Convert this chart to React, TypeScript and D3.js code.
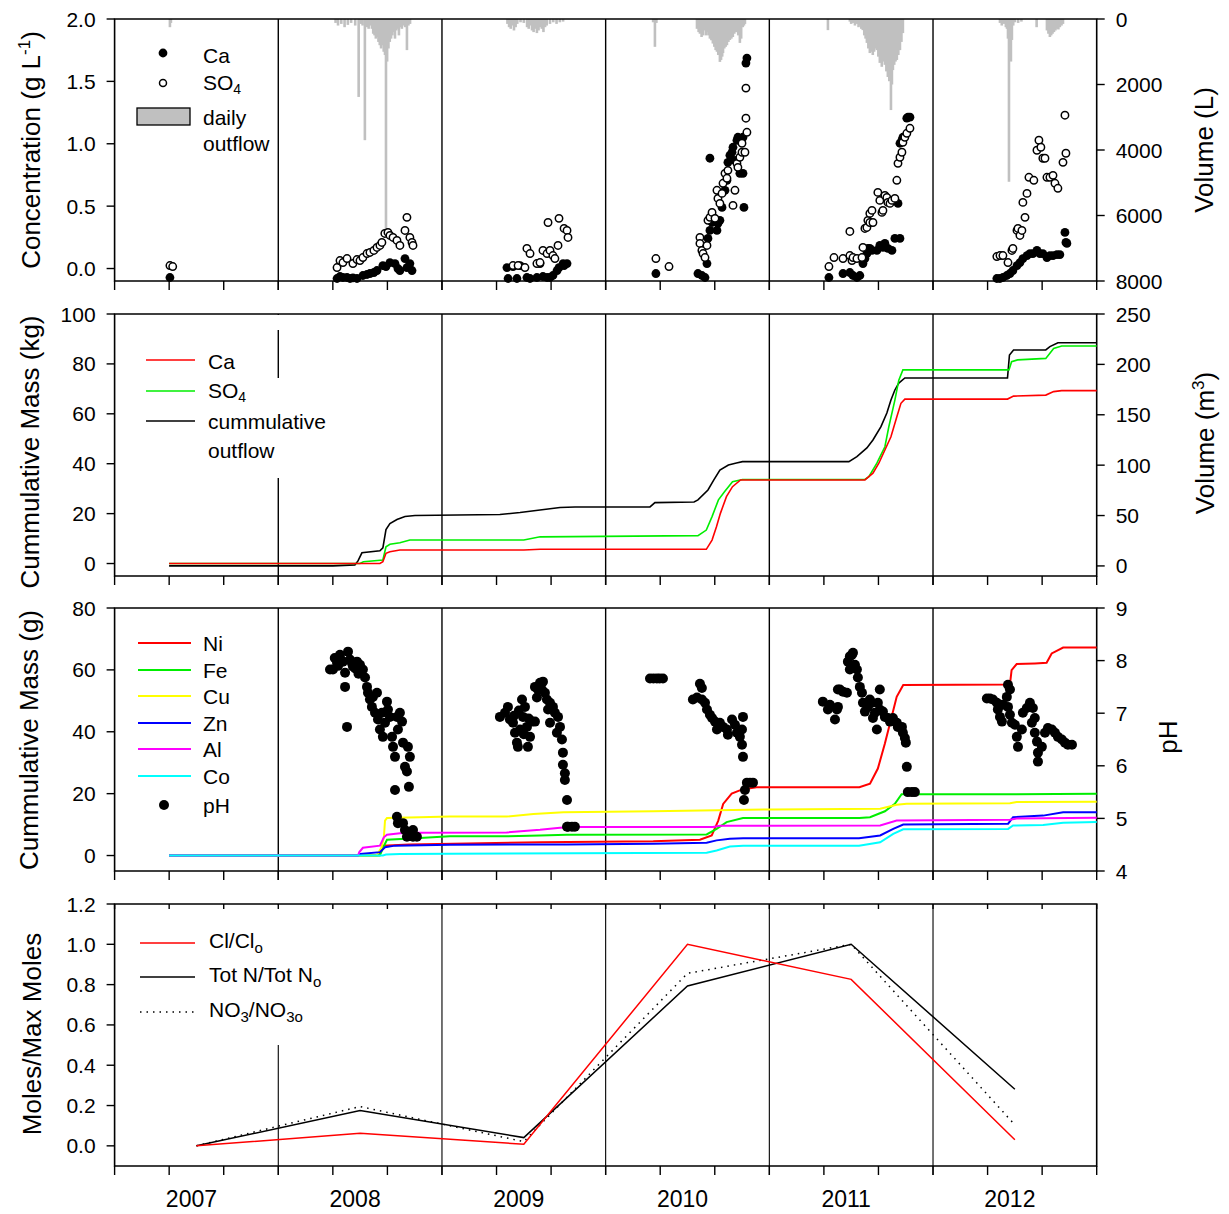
import React from "react";
import * as d3 from "d3";

const FONT = "'Liberation Sans', Arial, Helvetica, sans-serif";
const W = 1229;
const H = 1214;

// ---------------- axis values ----------------
const yearLabels = [2007, 2008, 2009, 2010, 2011, 2012];
const yearBoundaries = [2008, 2009, 2010, 2011, 2012];
const concTicks = [0, 0.5, 1.0, 1.5, 2.0];
const volLTicks = [0, 2000, 4000, 6000, 8000];
const massKgTicks = [0, 20, 40, 60, 80, 100];
const volM3Ticks = [0, 50, 100, 150, 200, 250];
const massGTicks = [0, 20, 40, 60, 80];
const phTicks = [4, 5, 6, 7, 8, 9];
const molesTicks = [0, 0.2, 0.4, 0.6, 0.8, 1.0, 1.2];

// ---------------- daily outflow (decimal year, litres) ----------------
const dailyOutflow: [number, number][] = [
  [2007.338, 250], [2007.344, 120],
  [2008.35, 120], [2008.365, 200], [2008.385, 150], [2008.405, 250], [2008.425, 180], [2008.445, 120], [2008.47, 200],
  [2008.491, 2380], [2008.505, 150], [2008.515, 200], [2008.529, 3700], [2008.54, 250], [2008.552, 300], [2008.562, 200],
  [2008.572, 300], [2008.58, 450], [2008.588, 500], [2008.596, 600], [2008.604, 550], [2008.612, 700], [2008.62, 800],
  [2008.628, 900], [2008.636, 800], [2008.644, 1000], [2008.652, 1100], [2008.658, 6540], [2008.665, 1300], [2008.673, 900],
  [2008.681, 700], [2008.689, 600], [2008.697, 500], [2008.705, 400], [2008.713, 600], [2008.721, 350], [2008.729, 300],
  [2008.737, 500], [2008.745, 250], [2008.755, 300], [2008.765, 200], [2008.775, 250], [2008.786, 950], [2008.795, 200], [2008.805, 150],
  [2009.4, 150], [2009.41, 250], [2009.42, 300], [2009.43, 200], [2009.44, 350], [2009.45, 250], [2009.46, 150], [2009.48, 100],
  [2009.5, 120], [2009.52, 250], [2009.53, 300], [2009.54, 200], [2009.55, 350], [2009.56, 400], [2009.57, 300], [2009.58, 430],
  [2009.59, 350], [2009.6, 250], [2009.61, 300], [2009.62, 400], [2009.63, 250], [2009.64, 200], [2009.66, 150], [2009.68, 100],
  [2009.7, 150], [2009.72, 100], [2009.74, 80],
  [2010.29, 100], [2010.301, 850], [2010.31, 120],
  [2010.558, 300], [2010.568, 400], [2010.576, 450], [2010.586, 550], [2010.594, 500], [2010.604, 350], [2010.612, 500],
  [2010.62, 400], [2010.628, 500], [2010.637, 600], [2010.646, 650], [2010.655, 750], [2010.664, 850], [2010.672, 950],
  [2010.68, 1000], [2010.688, 1100], [2010.698, 1310], [2010.705, 1250], [2010.712, 1150], [2010.717, 1040], [2010.725, 900],
  [2010.733, 850], [2010.741, 800], [2010.75, 700], [2010.759, 640], [2010.768, 600], [2010.777, 550], [2010.786, 450],
  [2010.795, 400], [2010.802, 400], [2010.81, 500], [2010.82, 730], [2010.828, 600], [2010.838, 250], [2010.845, 200], [2010.851, 150],
  [2011.358, 340],
  [2011.492, 80], [2011.5, 150], [2011.51, 120], [2011.523, 200], [2011.535, 150], [2011.545, 250], [2011.553, 200], [2011.562, 300],
  [2011.571, 340], [2011.58, 500], [2011.588, 600], [2011.596, 730], [2011.605, 900], [2011.614, 1040], [2011.623, 1000],
  [2011.632, 1100], [2011.64, 1000], [2011.648, 900], [2011.657, 950], [2011.666, 1150], [2011.675, 1340], [2011.687, 1460],
  [2011.697, 1300], [2011.706, 1400], [2011.715, 1600], [2011.724, 1770], [2011.733, 1900], [2011.743, 2780], [2011.749, 2000],
  [2011.755, 1560], [2011.763, 1400], [2011.771, 1300], [2011.779, 1250], [2011.788, 1100], [2011.798, 950], [2011.807, 700], [2011.816, 430],
  [2012.409, 120], [2012.42, 200], [2012.432, 150], [2012.445, 250], [2012.452, 300], [2012.458, 600], [2012.464, 4970],
  [2012.47, 1040], [2012.476, 1300], [2012.482, 640], [2012.49, 200], [2012.5, 100], [2012.52, 120], [2012.54, 80],
  [2012.633, 250],
  [2012.696, 350], [2012.705, 450], [2012.714, 550], [2012.722, 500], [2012.73, 450], [2012.739, 400], [2012.748, 350],
  [2012.757, 300], [2012.766, 320], [2012.775, 250], [2012.785, 200], [2012.794, 150],
];

// ---------------- concentrations (decimal year, g/L) ----------------
const caConc: [number, number][] = [
  [2007.338, -0.072],
  [2008.359, -0.08], [2008.377, -0.064], [2008.395, -0.072], [2008.42, -0.072], [2008.438, -0.08], [2008.456, -0.075],
  [2008.481, -0.08], [2008.517, -0.056], [2008.542, -0.048], [2008.56, -0.04], [2008.584, -0.032], [2008.603, -0.016],
  [2008.639, 0.024], [2008.658, 0.016], [2008.682, 0.048], [2008.713, 0.04], [2008.731, 0.0], [2008.743, -0.016],
  [2008.774, 0.08], [2008.786, 0.008], [2008.804, 0.04], [2008.817, -0.016],
  [2009.397, 0.008], [2009.404, -0.08], [2009.434, 0.016], [2009.458, -0.08], [2009.477, 0.024], [2009.519, -0.072],
  [2009.538, -0.08], [2009.58, -0.072], [2009.599, 0.04], [2009.617, -0.064], [2009.642, -0.072], [2009.66, -0.072],
  [2009.678, -0.056], [2009.703, -0.016], [2009.715, 0.008], [2009.74, 0.04], [2009.746, 0.024], [2009.764, 0.04],
  [2010.307, -0.04], [2010.564, -0.04], [2010.588, -0.056], [2010.607, -0.072], [2010.619, 0.04], [2010.625, 0.241],
  [2010.637, 0.305], [2010.637, 0.884], [2010.65, 0.369], [2010.656, 0.41], [2010.68, 0.305], [2010.686, 0.361],
  [2010.698, 0.386], [2010.711, 0.49], [2010.729, 0.627], [2010.741, 0.707], [2010.747, 0.851], [2010.759, 0.908],
  [2010.772, 0.932], [2010.778, 0.972], [2010.79, 0.867], [2010.802, 1.028], [2010.808, 1.052], [2010.82, 0.763],
  [2010.839, 0.763], [2010.839, 1.052], [2010.845, 0.49], [2010.857, 1.647], [2010.863, 1.687],
  [2011.364, -0.072], [2011.45, -0.04], [2011.492, -0.032], [2011.511, -0.056], [2011.535, -0.072], [2011.553, -0.056],
  [2011.572, 0.04], [2011.584, 0.08], [2011.596, 0.12], [2011.602, 0.161], [2011.614, 0.161], [2011.627, 0.145],
  [2011.657, 0.145], [2011.675, 0.185], [2011.694, 0.169], [2011.706, 0.201], [2011.724, 0.161], [2011.749, 0.145],
  [2011.767, 0.241], [2011.798, 0.241], [2011.786, 0.522], [2011.798, 1.004], [2011.81, 1.028], [2011.816, 1.052],
  [2011.84, 1.205], [2011.847, 1.213], [2011.859, 1.213],
  [2012.39, -0.08], [2012.409, -0.08], [2012.427, -0.072], [2012.451, -0.056], [2012.47, -0.04], [2012.488, -0.016],
  [2012.513, 0.024], [2012.531, 0.048], [2012.549, 0.08], [2012.574, 0.104], [2012.592, 0.12], [2012.61, 0.12],
  [2012.635, 0.145], [2012.653, 0.12], [2012.671, 0.12], [2012.696, 0.088], [2012.714, 0.104], [2012.733, 0.104],
  [2012.757, 0.112], [2012.775, 0.112], [2012.806, 0.289], [2012.812, 0.209], [2012.818, 0.201],
];

const so4Conc: [number, number][] = [
  [2007.338, 0.024], [2007.355, 0.016],
  [2008.359, 0.008], [2008.377, 0.064], [2008.395, 0.048], [2008.42, 0.08], [2008.456, 0.04], [2008.481, 0.072],
  [2008.499, 0.064], [2008.517, 0.088], [2008.542, 0.12], [2008.56, 0.129], [2008.584, 0.145], [2008.603, 0.169],
  [2008.621, 0.185], [2008.633, 0.209], [2008.651, 0.281], [2008.67, 0.289], [2008.682, 0.265], [2008.701, 0.249],
  [2008.725, 0.225], [2008.743, 0.185], [2008.774, 0.305], [2008.786, 0.41], [2008.804, 0.249], [2008.817, 0.209], [2008.823, 0.185],
  [2009.434, 0.024], [2009.465, 0.024], [2009.507, 0.008], [2009.519, 0.161], [2009.538, 0.12], [2009.58, 0.04],
  [2009.599, 0.048], [2009.617, 0.145], [2009.642, 0.12], [2009.648, 0.369], [2009.66, 0.145], [2009.678, 0.104],
  [2009.69, 0.08], [2009.709, 0.185], [2009.715, 0.402], [2009.746, 0.321], [2009.764, 0.305], [2009.77, 0.249],
  [2010.307, 0.08], [2010.387, 0.016], [2010.576, 0.249], [2010.576, 0.201], [2010.588, 0.145], [2010.595, 0.12],
  [2010.607, 0.088], [2010.619, 0.185], [2010.625, 0.386], [2010.637, 0.41], [2010.65, 0.45], [2010.668, 0.402],
  [2010.68, 0.627], [2010.686, 0.562], [2010.698, 0.522], [2010.711, 0.602], [2010.717, 0.683], [2010.729, 0.763],
  [2010.741, 0.723], [2010.747, 0.787], [2010.778, 0.506], [2010.79, 0.627], [2010.802, 0.843], [2010.808, 0.811],
  [2010.82, 0.892], [2010.833, 0.932], [2010.833, 1.004], [2010.851, 0.932], [2010.863, 1.092], [2010.857, 1.205], [2010.857, 1.446],
  [2011.364, 0.016], [2011.395, 0.088], [2011.45, 0.08], [2011.492, 0.104], [2011.492, 0.297], [2011.505, 0.064],
  [2011.511, 0.088], [2011.535, 0.08], [2011.566, 0.088], [2011.572, 0.169], [2011.584, 0.321], [2011.596, 0.329],
  [2011.602, 0.386], [2011.614, 0.442], [2011.627, 0.466], [2011.614, 0.369], [2011.633, 0.369], [2011.663, 0.61],
  [2011.675, 0.546], [2011.688, 0.45], [2011.694, 0.466], [2011.706, 0.586], [2011.718, 0.57], [2011.724, 0.53],
  [2011.737, 0.522], [2011.749, 0.546], [2011.767, 0.562], [2011.779, 0.707], [2011.786, 0.843], [2011.798, 0.892],
  [2011.81, 0.932], [2011.816, 1.012], [2011.828, 1.052], [2011.84, 1.084], [2011.859, 1.124],
  [2012.39, 0.096], [2012.409, 0.104], [2012.427, 0.104], [2012.458, 0.048], [2012.482, 0.145], [2012.488, 0.161],
  [2012.513, 0.305], [2012.519, 0.321], [2012.531, 0.265], [2012.543, 0.305], [2012.562, 0.41], [2012.549, 0.53],
  [2012.574, 0.602], [2012.586, 0.731], [2012.616, 0.707], [2012.635, 0.948], [2012.647, 1.028], [2012.659, 0.972],
  [2012.671, 0.884], [2012.684, 0.884], [2012.696, 0.731], [2012.714, 0.731], [2012.733, 0.747], [2012.745, 0.683],
  [2012.763, 0.643], [2012.794, 0.851], [2012.806, 1.229], [2012.812, 0.924],
];

// ---------------- cumulative Ca / SO4 (kg) and outflow (m3) ----------------
const caMassKg: [number, number][] = [
  [2007.333, 0], [2008.621, 0], [2008.639, 0.7], [2008.658, 4.1], [2008.682, 4.7], [2008.743, 5.4], [2009.5, 5.4],
  [2009.6, 5.7], [2010.615, 5.7], [2010.65, 9.4], [2010.677, 14.7], [2010.701, 20.1], [2010.738, 26.8], [2010.775, 30.8],
  [2010.824, 33.5], [2011.584, 33.5], [2011.633, 36.2], [2011.669, 40.2], [2011.706, 45.5], [2011.743, 50.8],
  [2011.779, 58.8], [2011.804, 64.2], [2011.828, 65.9], [2012.455, 65.9], [2012.492, 67.1], [2012.689, 67.5],
  [2012.737, 68.9], [2012.786, 69.3], [2013, 69.3],
];
const so4MassKg: [number, number][] = [
  [2007.333, 0], [2008.499, 0], [2008.52, 0.7], [2008.639, 1.4], [2008.658, 6.7], [2008.682, 7.7], [2008.743, 8.3],
  [2008.804, 9.4], [2009.5, 9.4], [2009.6, 10.7], [2010.564, 11.2], [2010.615, 13.4], [2010.65, 18.8], [2010.689, 25.5],
  [2010.726, 28.8], [2010.775, 32.8], [2010.836, 33.7], [2011.584, 33.7], [2011.608, 34.8], [2011.657, 40.2],
  [2011.706, 46.8], [2011.73, 54.8], [2011.767, 65.5], [2011.791, 73.5], [2011.816, 77.6], [2012.464, 77.6],
  [2012.48, 80.9], [2012.517, 81.6], [2012.689, 82.2], [2012.737, 86.2], [2012.786, 87.2], [2013, 87.2],
];
const outflowM3: [number, number][] = [
  [2007.333, 0], [2008.334, 0], [2008.468, 1], [2008.487, 5], [2008.511, 13], [2008.621, 15], [2008.639, 18],
  [2008.658, 36], [2008.682, 42], [2008.725, 46], [2008.774, 49], [2008.835, 50], [2009.354, 51], [2009.477, 53],
  [2009.599, 55.5], [2009.721, 58], [2009.813, 58.5], [2010.271, 58.5], [2010.301, 62.8], [2010.54, 63.5],
  [2010.564, 65.5], [2010.625, 75.4], [2010.661, 85.3], [2010.698, 95.2], [2010.75, 100.2], [2010.799, 102.2],
  [2010.836, 103.5], [2011.486, 103.5], [2011.535, 108.4], [2011.596, 117.1], [2011.633, 125], [2011.682, 138.2],
  [2011.718, 151.8], [2011.743, 164.7], [2011.767, 174.6], [2011.791, 181.5], [2011.828, 186.5], [2012.455, 186.5],
  [2012.467, 209.3], [2012.492, 214.3], [2012.689, 214.3], [2012.714, 217.6], [2012.763, 221.5], [2013, 221.5],
];

// ---------------- cumulative metals (g) ----------------
const niMass: [number, number][] = [
  [2007.333, 0], [2008.6, 0], [2008.621, 0.5], [2008.639, 3.2], [2008.8, 3.6], [2009.6, 4.3], [2010.291, 4.6],
  [2010.576, 5.1], [2010.648, 6.5], [2010.688, 11.3], [2010.718, 16.7], [2010.77, 20.0], [2010.831, 21.3],
  [2010.922, 22.1], [2011.55, 22.1], [2011.615, 23.2], [2011.663, 28.1], [2011.706, 36.2], [2011.747, 44.8],
  [2011.778, 51.3], [2011.818, 55.1], [2012.47, 55.3], [2012.48, 59.9], [2012.511, 61.9], [2012.623, 62.1],
  [2012.694, 62.3], [2012.725, 65.3], [2012.795, 67.2], [2013, 67.2],
];
const feMass: [number, number][] = [
  [2007.333, 0], [2008.62, 0], [2008.652, 3.8], [2008.664, 5.1], [2008.865, 5.7], [2009.048, 6.2], [2009.395, 6.2],
  [2009.599, 6.5], [2009.762, 6.7], [2010.617, 6.8], [2010.678, 8.6], [2010.739, 10.8], [2010.839, 12.1],
  [2011.55, 12.1], [2011.615, 12.4], [2011.706, 14.3], [2011.767, 16.7], [2011.808, 19.8], [2012.47, 19.8], [2013, 20.0],
];
const cuMass: [number, number][] = [
  [2007.333, 0], [2008.6, 0], [2008.63, 2.5], [2008.645, 5.9], [2008.652, 11.3], [2008.664, 12.1], [2008.865, 12.4],
  [2009.048, 12.6], [2009.395, 12.6], [2009.559, 13.4], [2009.742, 14.0], [2010.291, 14.3], [2010.678, 14.6],
  [2011.022, 14.9], [2011.677, 15.1], [2011.778, 16.4], [2011.839, 16.7], [2012.47, 16.9], [2012.511, 17.3], [2013, 17.4],
];
const znMass: [number, number][] = [
  [2007.333, 0], [2008.487, 0], [2008.5, 0.5], [2008.621, 1.1], [2008.652, 2.7], [2008.713, 3.2], [2009.048, 3.5],
  [2009.762, 3.6], [2010.291, 3.8], [2010.617, 4.1], [2010.678, 4.9], [2010.759, 5.4], [2010.84, 5.6], [2011.548, 5.6],
  [2011.677, 6.5], [2011.757, 8.6], [2011.818, 10.0], [2012.459, 10.3], [2012.489, 12.4], [2012.673, 12.9],
  [2012.795, 14.0], [2013, 14.0],
];
const alMass: [number, number][] = [
  [2007.333, 0], [2008.487, 0], [2008.495, 1.1], [2008.517, 2.5], [2008.621, 3.2], [2008.645, 5.9], [2008.664, 6.7],
  [2008.743, 7.2], [2008.835, 7.35], [2009.395, 7.45], [2009.599, 8.3], [2009.721, 9.0], [2009.8, 9.2], [2010.655, 9.2],
  [2010.698, 9.6], [2011.677, 9.7], [2011.778, 11.3], [2012.47, 11.6], [2012.511, 12.0], [2013, 12.2],
];
const coMass: [number, number][] = [
  [2007.333, 0], [2008.639, 0], [2008.658, 0.3], [2008.743, 0.5], [2009.048, 0.6], [2010.617, 0.9], [2010.678, 1.6],
  [2010.759, 2.9], [2010.84, 3.2], [2011.548, 3.2], [2011.677, 4.3], [2011.757, 7.0], [2011.818, 8.5], [2012.459, 8.6],
  [2012.489, 9.7], [2012.673, 9.9], [2012.795, 10.6], [2013, 10.8],
];

// ---------------- pH (decimal year, pH) ----------------
const phSamples: [number, number][] = [
  [2008.316, 7.83], [2008.334, 7.83], [2008.345, 8.05], [2008.359, 7.96], [2008.365, 7.9], [2008.377, 8.11], [2008.387, 8.0],
  [2008.395, 7.98], [2008.408, 7.77], [2008.426, 8.17], [2008.438, 8.02], [2008.45, 7.95], [2008.456, 7.89], [2008.408, 7.5],
  [2008.42, 6.74], [2008.47, 7.85], [2008.481, 7.98], [2008.49, 7.75], [2008.499, 7.92], [2008.517, 7.83], [2008.53, 7.68],
  [2008.542, 7.5], [2008.548, 7.39], [2008.56, 7.26], [2008.572, 7.12], [2008.578, 7.31], [2008.591, 7.01], [2008.603, 7.39],
  [2008.609, 6.88], [2008.621, 6.69], [2008.633, 7.01], [2008.639, 6.55], [2008.652, 6.82], [2008.664, 7.22], [2008.67, 7.07],
  [2008.682, 6.93], [2008.695, 6.55], [2008.701, 6.36], [2008.713, 6.17], [2008.725, 6.93], [2008.731, 6.69], [2008.713, 5.54],
  [2008.725, 5.03], [2008.731, 4.91], [2008.743, 7.01], [2008.756, 6.84], [2008.762, 6.44], [2008.774, 5.98], [2008.786, 5.89],
  [2008.792, 6.36], [2008.804, 6.17], [2008.798, 5.6], [2008.762, 4.91], [2008.774, 4.78], [2008.786, 4.65], [2008.804, 4.69],
  [2008.823, 4.65], [2008.847, 4.65], [2008.823, 4.78],
  [2009.354, 6.93], [2009.385, 7.01], [2009.403, 7.12], [2009.415, 6.88], [2009.434, 6.82], [2009.44, 6.95], [2009.446, 6.63],
  [2009.458, 6.44], [2009.464, 6.36], [2009.47, 7.05], [2009.477, 6.69], [2009.489, 7.26], [2009.495, 6.93], [2009.5, 6.6],
  [2009.507, 7.12], [2009.519, 6.74], [2009.525, 6.36], [2009.53, 6.9], [2009.538, 6.55], [2009.55, 6.84], [2009.568, 6.84],
  [2009.568, 7.5], [2009.58, 7.3], [2009.586, 7.45], [2009.599, 7.58], [2009.61, 7.45], [2009.617, 7.6], [2009.629, 7.39],
  [2009.641, 7.26], [2009.648, 7.07], [2009.66, 6.82], [2009.66, 7.2], [2009.678, 7.12], [2009.69, 7.01], [2009.702, 6.63],
  [2009.709, 6.93], [2009.721, 6.74], [2009.733, 6.5], [2009.739, 6.25], [2009.739, 6.02], [2009.751, 5.86], [2009.751, 5.73],
  [2009.764, 5.35], [2009.77, 4.84], [2009.794, 4.84], [2009.812, 4.84], [2009.764, 4.84],
  [2010.271, 7.66], [2010.292, 7.66], [2010.313, 7.66], [2010.33, 7.66], [2010.35, 7.66],
  [2010.533, 7.26], [2010.558, 7.3], [2010.576, 7.56], [2010.588, 7.48], [2010.588, 7.26], [2010.607, 7.2], [2010.619, 7.07],
  [2010.637, 6.97], [2010.65, 6.91], [2010.668, 6.84], [2010.68, 6.69], [2010.698, 6.82], [2010.717, 6.74], [2010.741, 6.69],
  [2010.747, 6.59], [2010.772, 6.88], [2010.79, 6.78], [2010.802, 6.63], [2010.82, 6.55], [2010.833, 6.69], [2010.839, 6.93],
  [2010.833, 6.4], [2010.839, 6.17], [2010.863, 5.68], [2010.882, 5.68], [2010.9, 5.68], [2010.851, 5.54], [2010.845, 5.35],
  [2011.327, 7.22], [2011.358, 7.07], [2011.37, 7.16], [2011.401, 6.88], [2011.413, 7.07], [2011.419, 7.12], [2011.419, 7.45],
  [2011.431, 7.45], [2011.45, 7.41], [2011.474, 7.39], [2011.48, 7.98], [2011.492, 8.08], [2011.505, 8.11], [2011.511, 8.15],
  [2011.492, 7.83], [2011.523, 7.92], [2011.535, 7.83], [2011.541, 7.68], [2011.553, 7.5], [2011.566, 7.39], [2011.572, 7.2],
  [2011.584, 7.03], [2011.602, 7.12], [2011.614, 7.26], [2011.627, 7.2], [2011.633, 6.91], [2011.645, 7.01], [2011.657, 6.69],
  [2011.663, 7.2], [2011.675, 7.45], [2011.675, 7.07], [2011.694, 7.03], [2011.706, 6.93], [2011.724, 6.91], [2011.737, 6.84],
  [2011.755, 6.91], [2011.779, 6.82], [2011.785, 6.74], [2011.81, 6.74], [2011.816, 6.63], [2011.828, 6.53], [2011.834, 6.44],
  [2011.84, 5.98], [2011.846, 5.5], [2011.871, 5.5], [2011.889, 5.5],
  [2012.329, 7.28], [2012.348, 7.28], [2012.366, 7.26], [2012.39, 7.2], [2012.396, 7.07], [2012.409, 6.93], [2012.421, 6.84],
  [2012.427, 7.16], [2012.451, 7.31], [2012.458, 7.54], [2012.47, 7.45], [2012.458, 7.12], [2012.47, 6.97], [2012.482, 6.82],
  [2012.5, 6.78], [2012.512, 6.55], [2012.519, 6.36], [2012.543, 6.69], [2012.549, 7.01], [2012.573, 7.1], [2012.592, 7.2],
  [2012.61, 7.1], [2012.622, 6.91], [2012.604, 6.82], [2012.622, 6.63], [2012.635, 6.46], [2012.641, 6.25], [2012.641, 6.08],
  [2012.665, 6.36], [2012.684, 6.63], [2012.702, 6.72], [2012.726, 6.69], [2012.745, 6.63], [2012.763, 6.55], [2012.787, 6.5],
  [2012.806, 6.44], [2012.824, 6.4], [2012.849, 6.4],
];

// ---------------- normalised moles (one value per year) ----------------
const sampleYears = [2007.5, 2008.5, 2009.5, 2010.5, 2011.5, 2012.5];
const clRatio = [0, 0.063, 0.008, 1.0, 0.826, 0.03];
const totNRatio = [0, 0.175, 0.041, 0.793, 1.0, 0.281];
const no3Ratio = [0, 0.195, 0.021, 0.856, 1.0, 0.104];

// ---------------- scales ----------------
const x = d3.scaleLinear().domain([2007, 2013]).range([114.6, 1096.7]);
const xTicks = d3.range(0, 19).map((k) => 2007 + k / 3);

const P1 = { top: 19, bottom: 281 };
const P2 = { top: 314, bottom: 576 };
const P3 = { top: 608, bottom: 871 };
const P4 = { top: 904, bottom: 1166 };

const yConc = d3.scaleLinear().domain([-0.1, 2.0]).range([P1.bottom, P1.top]);
const yVolL = d3.scaleLinear().domain([0, 8000]).range([P1.top, P1.bottom]);
const yMassKg = d3.scaleLinear().domain([-5, 100]).range([P2.bottom, P2.top]);
const yVolM3 = d3.scaleLinear().domain([-10, 250]).range([P2.bottom, P2.top]);
const yMassG = d3.scaleLinear().domain([-5, 80]).range([P3.bottom, P3.top]);
const yPH = d3.scaleLinear().domain([4, 9]).range([P3.bottom, P3.top]);
const yMoles = d3.scaleLinear().domain([-0.1, 1.2]).range([P4.bottom, P4.top]);

const TICK_FS = 21;
const LEG_FS = 21;
const TITLE_FS = 26;

type Mask = { x: number; y: number; w: number; h: number };

function Frame(props: {
  top: number;
  bottom: number;
  yL: d3.ScaleLinear<number, number>;
  ticksL: number[];
  fmtL: (v: number) => string;
  yR?: d3.ScaleLinear<number, number>;
  ticksR?: number[];
  fmtR?: (v: number) => string;
  topTicks?: boolean;
  masks?: Mask[];
  yearStroke?: number;
}) {
  const { top, bottom, yL, ticksL, fmtL, yR, ticksR, fmtR, topTicks, masks, yearStroke } = props;
  const [left, right] = x.range();
  return (
    <g>
      {yearBoundaries.map((yr) => (
        <line key={"yl" + yr} x1={x(yr)} x2={x(yr)} y1={top} y2={bottom + 9} stroke="#000" strokeWidth={yearStroke ?? 1.4} />
      ))}
      {masks?.map((m, i) => (
        <rect key={"m" + i} x={m.x} y={m.y} width={m.w} height={m.h} fill="#fff" />
      ))}
      <path d={`M${left},${top}H${right}V${bottom}H${left}Z`} fill="none" stroke="#000" strokeWidth={1.6} />
      {xTicks.map((t, i) => (
        <line key={"xb" + i} x1={x(t)} x2={x(t)} y1={bottom} y2={bottom + 9} stroke="#000" strokeWidth={1.4} />
      ))}
      {topTicks &&
        xTicks.map((t, i) => (
          <line key={"xt" + i} x1={x(t)} x2={x(t)} y1={top} y2={top + 5} stroke="#000" strokeWidth={1.4} />
        ))}
      {ticksL.map((v) => (
        <g key={"l" + v}>
          <line x1={left - 8} x2={left} y1={yL(v)} y2={yL(v)} stroke="#000" strokeWidth={1.4} />
          <text x={left - 19} y={yL(v)} textAnchor="end" dominantBaseline="central" fontSize={TICK_FS}>
            {fmtL(v)}
          </text>
        </g>
      ))}
      {yR &&
        ticksR &&
        ticksR.map((v) => (
          <g key={"r" + v}>
            <line x1={right} x2={right + 8} y1={yR(v)} y2={yR(v)} stroke="#000" strokeWidth={1.4} />
            <text x={right + 19} y={yR(v)} textAnchor="start" dominantBaseline="central" fontSize={TICK_FS}>
              {fmtR ? fmtR(v) : String(v)}
            </text>
          </g>
        ))}
    </g>
  );
}

function VTitle(props: { x: number; y: number; children: React.ReactNode }) {
  return (
    <text transform={`translate(${props.x},${props.y}) rotate(-90)`} textAnchor="middle" fontSize={TITLE_FS}>
      {props.children}
    </text>
  );
}

export default function App() {
  const f1 = d3.format(".1f");
  const f0 = (v: number) => String(v);
  const lineOn = (ys: d3.ScaleLinear<number, number>) =>
    d3
      .line<[number, number]>()
      .x((d) => x(d[0]))
      .y((d) => ys(d[1]));
  const kgLine = lineOn(yMassKg);
  const m3Line = lineOn(yVolM3);
  const gLine = lineOn(yMassG);
  const molesLine = lineOn(yMoles);
  const pairs = (vals: number[]) => sampleYears.map((yr, i) => [yr, vals[i]] as [number, number]);

  const metals: { name: string; color: string; data: [number, number][] }[] = [
    { name: "Ni", color: "#ff0000", data: niMass },
    { name: "Fe", color: "#00ee00", data: feMass },
    { name: "Cu", color: "#ffff00", data: cuMass },
    { name: "Zn", color: "#0000ff", data: znMass },
    { name: "Al", color: "#ff00ff", data: alMass },
    { name: "Co", color: "#00ffff", data: coMass },
  ];
  const metalLegendY = [643, 670, 696, 723, 749, 776];

  return (
    <svg
      width={W}
      height={H}
      viewBox={`0 0 ${W} ${H}`}
      style={{ position: "absolute", left: 0, top: 0, display: "block" }}
      fontFamily={FONT}
      fill="#000"
    >
      <rect x={0} y={0} width={W} height={H} fill="#fff" />

      {/* ===== Panel 1: concentrations and daily outflow ===== */}
      <g>
        {dailyOutflow.map(([t, v], i) => (
          <rect key={"o" + i} x={x(t) - 1.3} y={yVolL(0)} width={2.6} height={yVolL(v) - yVolL(0)} fill="#c0c0c0" />
        ))}
        <Frame top={P1.top} bottom={P1.bottom} yL={yConc} ticksL={concTicks} fmtL={f1} yR={yVolL} ticksR={volLTicks} />
        {caConc.map(([t, v], i) => (
          <circle key={"ca" + i} cx={x(t)} cy={yConc(v)} r={4.4} fill="#000" />
        ))}
        {so4Conc.map(([t, v], i) => (
          <circle key={"so" + i} cx={x(t)} cy={yConc(v)} r={3.7} fill="#fff" stroke="#000" strokeWidth={1.5} />
        ))}
        {/* legend */}
        <circle cx={163} cy={53} r={4.4} fill="#000" />
        <text x={203} y={55} fontSize={LEG_FS} dominantBaseline="central">Ca</text>
        <circle cx={163} cy={83} r={3.5} fill="#fff" stroke="#000" strokeWidth={1.5} />
        <text x={203} y={82} fontSize={LEG_FS} dominantBaseline="central">
          SO<tspan dy={7} fontSize={14}>4</tspan>
        </text>
        <rect x={137} y={108} width={53} height={17} fill="#c0c0c0" stroke="#000" strokeWidth={1.3} />
        <text x={203} y={117} fontSize={LEG_FS} dominantBaseline="central">daily</text>
        <text x={203} y={143} fontSize={LEG_FS} dominantBaseline="central">outflow</text>
        <VTitle x={40} y={150}>
          Concentration (g L<tspan dy={-10} fontSize={17}>-1</tspan>
          <tspan dy={10}>)</tspan>
        </VTitle>
        <VTitle x={1213} y={150}>Volume (L)</VTitle>
      </g>

      {/* ===== Panel 2: cumulative Ca, SO4 and outflow ===== */}
      <g>
        <Frame
          top={P2.top}
          bottom={P2.bottom}
          yL={yMassKg}
          ticksL={massKgTicks}
          fmtL={f0}
          yR={yVolM3}
          ticksR={volM3Ticks}
          masks={[
            { x: 137, y: P2.top + 1, w: 193, h: 15 },
            { x: 137, y: 378, w: 193, h: 100 },
          ]}
        />
        <path d={m3Line(outflowM3) ?? ""} fill="none" stroke="#000" strokeWidth={1.6} />
        <path d={kgLine(so4MassKg) ?? ""} fill="none" stroke="#00ee00" strokeWidth={1.6} />
        <path d={kgLine(caMassKg) ?? ""} fill="none" stroke="#ff0000" strokeWidth={1.6} />
        {/* legend */}
        <line x1={146} x2={195} y1={360} y2={360} stroke="#ff0000" strokeWidth={1.6} />
        <text x={208} y={361} fontSize={LEG_FS} dominantBaseline="central">Ca</text>
        <line x1={146} x2={195} y1={391} y2={391} stroke="#00ee00" strokeWidth={1.6} />
        <text x={208} y={390} fontSize={LEG_FS} dominantBaseline="central">
          SO<tspan dy={7} fontSize={14}>4</tspan>
        </text>
        <line x1={146} x2={195} y1={421} y2={421} stroke="#000" strokeWidth={1.6} />
        <text x={208} y={421} fontSize={LEG_FS} dominantBaseline="central">cummulative</text>
        <text x={208} y={450} fontSize={LEG_FS} dominantBaseline="central">outflow</text>
        <VTitle x={39} y={452}>Cummulative Mass (kg)</VTitle>
        <VTitle x={1214} y={443}>
          Volume (m<tspan dy={-10} fontSize={17}>3</tspan>
          <tspan dy={10}>)</tspan>
        </VTitle>
      </g>

      {/* ===== Panel 3: cumulative metals and pH ===== */}
      <g>
        <Frame top={P3.top} bottom={P3.bottom} yL={yMassG} ticksL={massGTicks} fmtL={f0} yR={yPH} ticksR={phTicks} />
        {metals.map((m) => (
          <path key={m.name} d={gLine(m.data) ?? ""} fill="none" stroke={m.color} strokeWidth={2} />
        ))}
        {phSamples.map(([t, v], i) => (
          <circle key={"ph" + i} cx={x(t)} cy={yPH(v)} r={5} fill="#000" />
        ))}
        {/* legend */}
        {metals.map((m, i) => (
          <g key={"lg" + m.name}>
            <line x1={138} x2={191} y1={metalLegendY[i]} y2={metalLegendY[i]} stroke={m.color} strokeWidth={2} />
            <text x={203} y={metalLegendY[i]} fontSize={LEG_FS} dominantBaseline="central">{m.name}</text>
          </g>
        ))}
        <circle cx={164} cy={805} r={5} fill="#000" />
        <text x={203} y={805} fontSize={LEG_FS} dominantBaseline="central">pH</text>
        <VTitle x={38} y={740}>Cummulative Mass (g)</VTitle>
        <VTitle x={1177} y={737}>pH</VTitle>
      </g>

      {/* ===== Panel 4: normalised moles ===== */}
      <g>
        <Frame
          top={P4.top}
          bottom={P4.bottom}
          yL={yMoles}
          ticksL={molesTicks}
          fmtL={f1}
          topTicks
          yearStroke={1.1}
          masks={[{ x: 137, y: P4.top + 1, w: 193, h: 140 }]}
        />
        <path d={molesLine(pairs(no3Ratio)) ?? ""} fill="none" stroke="#000" strokeWidth={1.5} strokeDasharray="1.5,5" />
        <path d={molesLine(pairs(totNRatio)) ?? ""} fill="none" stroke="#000" strokeWidth={1.5} />
        <path d={molesLine(pairs(clRatio)) ?? ""} fill="none" stroke="#ff0000" strokeWidth={1.5} />
        {/* legend */}
        <line x1={140} x2={195} y1={943} y2={943} stroke="#ff0000" strokeWidth={1.5} />
        <text x={209} y={940} fontSize={LEG_FS} dominantBaseline="central">
          Cl/Cl<tspan dy={7} fontSize={15}>o</tspan>
        </text>
        <line x1={140} x2={195} y1={977} y2={977} stroke="#000" strokeWidth={1.5} />
        <text x={209} y={974} fontSize={LEG_FS} dominantBaseline="central">
          Tot N/Tot N<tspan dy={7} fontSize={15}>o</tspan>
        </text>
        <line x1={140} x2={195} y1={1012} y2={1012} stroke="#000" strokeWidth={1.5} strokeDasharray="1.5,5" />
        <text x={209} y={1009} fontSize={LEG_FS} dominantBaseline="central">
          NO<tspan dy={7} fontSize={15}>3</tspan>
          <tspan dy={-7}>/NO</tspan>
          <tspan dy={7} fontSize={15}>3o</tspan>
        </text>
        <VTitle x={41} y={1034}>Moles/Max Moles</VTitle>
        {yearLabels.map((yr) => (
          <text key={"yr" + yr} x={x(yr + 0.5) - 5} y={1207} textAnchor="middle" fontSize={23}>
            {yr}
          </text>
        ))}
      </g>
    </svg>
  );
}
